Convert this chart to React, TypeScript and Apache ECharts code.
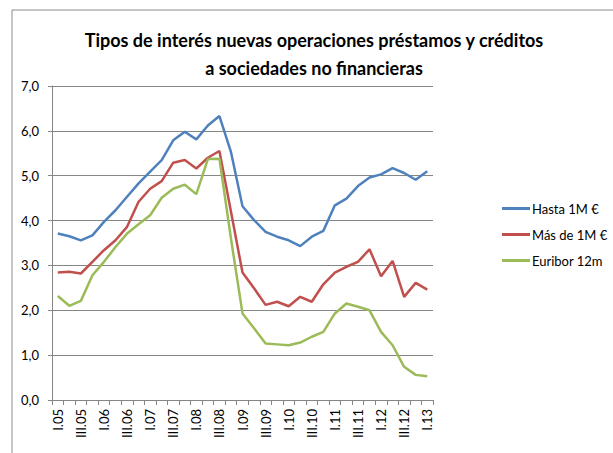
import React, { useEffect, useRef } from "react";
import * as echarts from "echarts";

const categories: string[] = [];
const years = ["05", "06", "07", "08", "09", "10", "11", "12"];
const quarters = ["I", "II", "III", "IV"];
for (const y of years) for (const q of quarters) categories.push(`${q}.${y}`);
categories.push("I.13");

const hasta1M = [3.71, 3.65, 3.56, 3.67, 3.97, 4.23, 4.53, 4.83, 5.09, 5.35, 5.79, 5.98, 5.81, 6.12, 6.33, 5.53, 4.32, 4.01, 3.75, 3.64, 3.56, 3.43, 3.64, 3.77, 4.34, 4.49, 4.77, 4.96, 5.03, 5.17, 5.06, 4.91, 5.1];
const masDe1M = [2.84, 2.86, 2.82, 3.08, 3.34, 3.56, 3.86, 4.42, 4.71, 4.88, 5.29, 5.35, 5.16, 5.4, 5.55, 4.2, 2.84, 2.49, 2.12, 2.19, 2.09, 2.3, 2.19, 2.58, 2.84, 2.97, 3.08, 3.36, 2.76, 3.1, 2.3, 2.61, 2.46];
const euribor12m = [2.32, 2.1, 2.21, 2.78, 3.08, 3.41, 3.71, 3.92, 4.12, 4.51, 4.71, 4.8, 4.59, 5.37, 5.38, 3.6, 1.93, 1.6, 1.26, 1.24, 1.22, 1.28, 1.41, 1.52, 1.93, 2.15, 2.08, 2.0, 1.52, 1.22, 0.74, 0.56, 0.53];

const seriesNames = ["Hasta 1M €", "Más de 1M €", "Euribor 12m"];
const colors = ["#4F81BD", "#C0504D", "#9BBB59"];
const titleLines = ["Tipos de interés nuevas operaciones préstamos y créditos", "a sociedades no financieras"];

export default function App() {
  const ref = useRef<HTMLDivElement>(null);
  useEffect(() => {
    if (!ref.current) return;
    const chart = echarts.init(ref.current, undefined, { renderer: "svg" });
    const font = "Lato, 'Open Sans', sans-serif";
    chart.setOption({
      animation: false,
      backgroundColor: "#ffffff",
      textStyle: { fontFamily: font },
      graphic: [
        {
          type: "rect",
          shape: { x: 12, y: 10, width: 800, height: 600 },
          style: { fill: "none", stroke: "#8c8c8c", lineWidth: 1 },
          silent: true,
        },
      ],
      title: {
        text: titleLines.join("\n"),
        left: 309,
        textAlign: "center",
        top: 21,
        textStyle: { fontSize: 18, fontWeight: "bold", color: "#000", lineHeight: 28, fontFamily: font },
      },
      legend: {
        orient: "vertical",
        left: 497,
        top: 197,
        itemGap: 13,
        itemWidth: 28,
        itemHeight: 3,
        icon: "rect",
        textStyle: { fontSize: 13, color: "#000", fontFamily: font, padding: [0, 0, 0, -3] },
        data: seriesNames,
      },
      grid: { left: 52, top: 86, right: 180, bottom: 53 },
      xAxis: {
        type: "category",
        data: categories,
        boundaryGap: true,
        axisLine: { lineStyle: { color: "#868686", width: 1 } },
        axisTick: { show: true, interval: 0, length: 5, lineStyle: { color: "#868686" } },
        axisLabel: { interval: 1, rotate: 90, fontSize: 13, color: "#000", margin: 9, fontFamily: font },
      },
      yAxis: {
        type: "value",
        min: 0,
        max: 7,
        interval: 1,
        axisLine: { show: true, lineStyle: { color: "#868686", width: 1 } },
        axisTick: { show: true, length: 4, lineStyle: { color: "#868686" } },
        axisLabel: {
          fontSize: 13,
          color: "#000",
          margin: 13,
          fontFamily: font,
          formatter: (v: number) => v.toFixed(1).replace(".", ","),
        },
        splitLine: { show: true, lineStyle: { color: "#868686", width: 1 } },
      },
      series: [hasta1M, masDe1M, euribor12m].map((d, i) => ({
        name: seriesNames[i],
        type: "line",
        data: d,
        symbol: "none",
        lineStyle: { color: colors[i], width: 2.5 },
        itemStyle: { color: colors[i] },
      })),
    });
    return () => chart.dispose();
  }, []);
  return <div ref={ref} style={{ position: "absolute", left: 0, top: 0, width: 613, height: 453 }} />;
}
